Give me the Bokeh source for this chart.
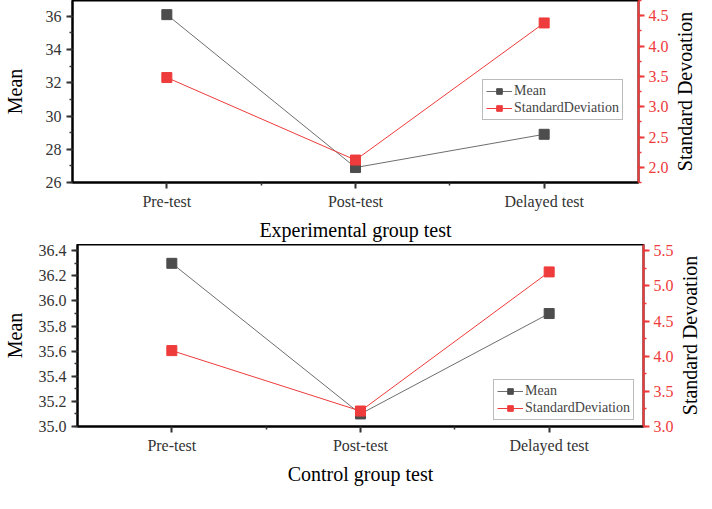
import math
from bokeh.plotting import figure
from bokeh.models import (Range1d, LinearAxis, FixedTicker, SingleIntervalTicker,
                          NumeralTickFormatter, Legend, LegendItem, Label)
from bokeh.layouts import column, row
from bokeh.embed import file_html
from bokeh.resources import INLINE

categories = ["Pre-test", "Post-test", "Delayed test"]
exp_mean = [36.1, 26.9, 28.9]
exp_sd = [3.48, 2.12, 4.38]
ctl_mean = [36.3, 35.1, 35.9]
ctl_sd = [4.08, 3.22, 5.2]
right_title = "Standard Devoation"

FONT = "Liberation Serif"
GRAY = "#4d4d4d"
LGRAY = "#6e6e6e"
RED = "#ee3b3b"
LABEL_W = 24
FRAME_W = 566
FRAME_H = 182


def make(mean, sd, title, yl, yr, lint, rint, lfmt, legend_loc, bottom_border,
         ylabel_standoff):
    xs = list(range(len(categories)))
    p = figure(frame_width=FRAME_W, frame_height=FRAME_H, output_backend="svg",
               toolbar_location=None,
               x_range=Range1d(-0.5, 2.5), y_range=Range1d(*yl),
               min_border_left=63, min_border_right=34, min_border_bottom=bottom_border,
               min_border_top=0, x_axis_location=None, y_axis_location=None)
    p.outline_line_color = "black"
    p.outline_line_width = 2
    p.xgrid.visible = False
    p.ygrid.visible = False
    p.extra_y_ranges = {"sd": Range1d(*yr)}

    xa = LinearAxis(ticker=FixedTicker(ticks=xs, minor_ticks=[0.5, 1.5]),
                    major_label_overrides={i: c for i, c in enumerate(categories)})
    xa.axis_label = title

    ya = LinearAxis(ticker=SingleIntervalTicker(interval=lint, num_minor_ticks=2),
                    formatter=NumeralTickFormatter(format=lfmt))
    ya.axis_label = "Mean"
    ra = LinearAxis(y_range_name="sd",
                    ticker=SingleIntervalTicker(interval=rint, num_minor_ticks=2),
                    formatter=NumeralTickFormatter(format="0.0"))

    for ax in (xa, ya, ra):
        ax.axis_line_width = 2
        ax.major_tick_line_width = 2
        ax.minor_tick_line_width = 1.5
        ax.major_tick_in = 0
        ax.major_tick_out = 6
        ax.minor_tick_in = 0
        ax.minor_tick_out = 3
        ax.major_label_text_font = FONT
        ax.major_label_text_font_size = "16px"
        ax.axis_label_text_font = FONT
        ax.axis_label_text_font_size = "20px"
        ax.axis_label_text_font_style = "normal"
        ax.axis_label_text_color = "black"
        ax.major_label_text_color = "#333333"
        ax.axis_line_color = "black"
        ax.major_tick_line_color = "#333333"
        ax.minor_tick_line_color = "#333333"
    xa.axis_label_standoff = 6
    xa.major_label_standoff = 4
    ya.axis_label_standoff = ylabel_standoff
    ra.major_label_standoff = 4
    ra.axis_line_color = RED
    ra.major_tick_line_color = RED
    ra.minor_tick_line_color = RED
    ra.major_label_text_color = RED

    p.add_layout(xa, "below")
    p.add_layout(ya, "left")
    p.add_layout(ra, "right")

    l1 = p.line(xs, mean, line_color=LGRAY, line_width=1)
    s1 = p.scatter(xs, mean, marker="square", size=10, fill_color=GRAY, line_color=GRAY)
    l2 = p.line(xs, sd, line_color=RED, line_width=1, y_range_name="sd")
    s2 = p.scatter(xs, sd, marker="square", size=10, fill_color=RED, line_color=RED,
                   y_range_name="sd")
    leg = Legend(items=[LegendItem(label="Mean", renderers=[l1, s1]),
                        LegendItem(label="StandardDeviation", renderers=[l2, s2])],
                 location=legend_loc)
    leg.label_text_font = FONT
    leg.label_text_font_size = "14px"
    leg.label_height = 14
    leg.glyph_height = 14
    leg.glyph_width = 26
    leg.label_standoff = 2
    leg.spacing = 1
    leg.padding = 3
    leg.margin = 0
    leg.border_line_color = "#777777"
    leg.border_line_width = 1
    leg.background_fill_alpha = 1
    p.add_layout(leg, "center")

    # narrow companion figure carrying the right-hand axis title
    q = figure(width=LABEL_W, frame_height=FRAME_H, output_backend="svg",
               toolbar_location=None,
               x_range=Range1d(0, 1), y_range=Range1d(*yl),
               min_border_left=0, min_border_right=0, min_border_bottom=bottom_border,
               min_border_top=0, x_axis_location=None, y_axis_location=None)
    q.outline_line_color = None
    q.xgrid.visible = False
    q.ygrid.visible = False
    q.add_layout(Label(x=0.5, y=(yl[0] + yl[1]) / 2, text=right_title, angle=math.pi / 2,
                       text_align="center", text_baseline="middle", text_font=FONT,
                       text_font_size="20px", text_color="black"))
    return row(p, q, spacing=0)


r1 = make(exp_mean, exp_sd, "Experimental group test", (26, 36.95), (1.75, 4.75),
          2, 0.5, "0", (410, 62), 62, 17)
r2 = make(ctl_mean, ctl_sd, "Control group test", (35.0, 36.45), (3.0, 5.59),
          0.2, 0.5, "0.0", (416, 6), 58, 10)

page = column(r1, r2, spacing=0)
open("out.html", "w").write(file_html(page, INLINE))
